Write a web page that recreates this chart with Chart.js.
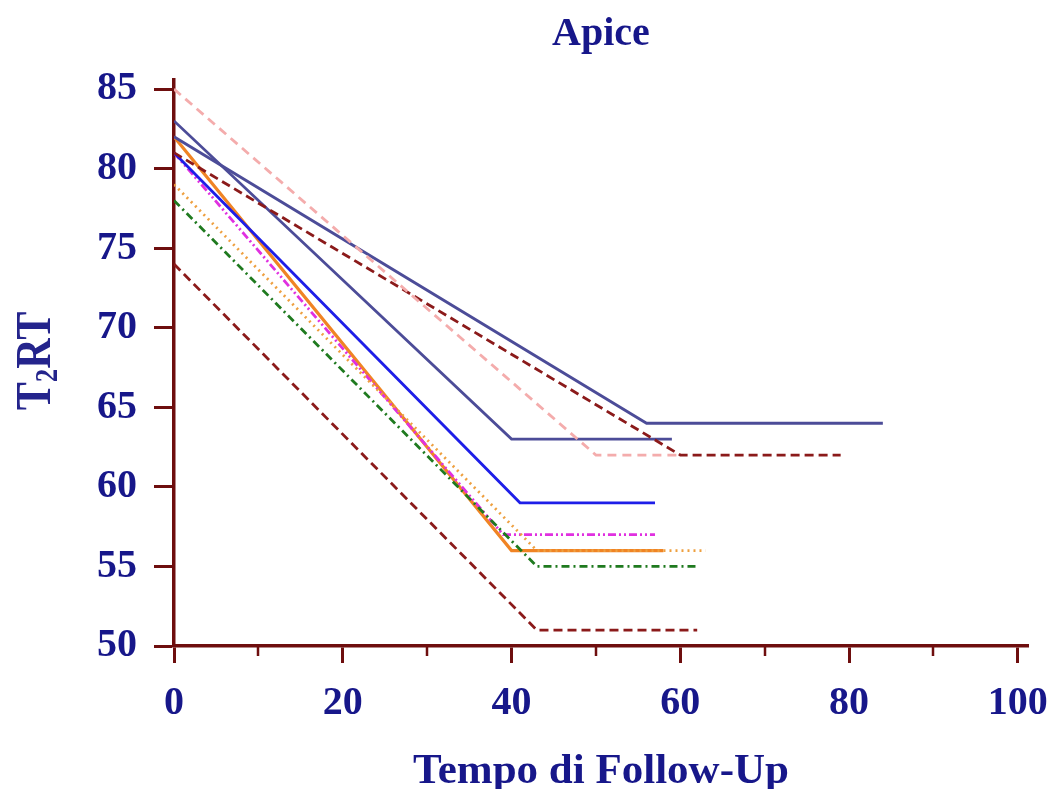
<!DOCTYPE html>
<html>
<head>
<meta charset="utf-8">
<script src="https://cdn.jsdelivr.net/npm/chart.js@4/dist/chart.umd.min.js"></script>
<style>
    html, body { margin: 0; background: #fff; }
</style>
</head>
<body>
<canvas id="chart" width="1053" height="789"></canvas>
<script>
// values: [x, ...] and [y, ...] for each curve
const xSlateA = [0, 56, 84];     const ySlateA = [82, 64, 64];
const xSlateB = [0, 40, 59];     const ySlateB = [83, 63, 63];
const xPink = [0, 50, 60];       const yPink = [85, 62, 62];
const xRedHigh = [0, 60, 79];    const yRedHigh = [81, 62, 62];
const xBlue = [0, 41, 57];       const yBlue = [81, 59, 59];
const xMagenta = [0, 39, 57];    const yMagenta = [81, 57, 57];
const xOrange = [0, 40, 58];     const yOrange = [82, 56, 56];
const xOrangeDot = [0, 43, 63];  const yOrangeDot = [79, 56, 56];
const xGreen = [0, 43, 62];      const yGreen = [78, 55, 55];
const xRedLow = [0, 43, 62];     const yRedLow = [74, 51, 51];

const xTicks = [0, 10, 20, 30, 40, 50, 60, 70, 80, 90, 100];
const yTicks = [50, 55, 60, 65, 70, 75, 80, 85];

const chartTitle = "Apice";
const xTitle = "Tempo di Follow-Up";

const AXIS = "#6e0e0e";
const NAVY = "#17178a";
const SERIF = "'Liberation Serif', 'Times New Roman', serif";

function pts(xs, ys) {
    return xs.map((x, i) => ({ x: x, y: ys[i] }));
}

function line(xs, ys, color, dash, width) {
    return {
        data: pts(xs, ys),
        borderColor: color,
        borderDash: dash,
        borderWidth: width || 2.8,
        pointRadius: 0,
        tension: 0,
        fill: false
    };
}

// title, rotated y title with subscript, short minor ticks on x
const decor = {
    id: 'decor',
    afterDraw(chart) {
        const ctx = chart.ctx;
        const xs = chart.scales.x;
        const area = chart.chartArea;
        ctx.save();

        ctx.strokeStyle = AXIS;
        ctx.lineWidth = 2.5;
        xTicks.forEach(v => {
            if (v % 20 !== 0) {
                const px = Math.round(xs.getPixelForValue(v));
                ctx.beginPath();
                ctx.moveTo(px, area.bottom);
                ctx.lineTo(px, area.bottom + 10);
                ctx.stroke();
            }
        });

        ctx.fillStyle = NAVY;
        ctx.font = "bold 40px " + SERIF;
        ctx.textAlign = "center";
        ctx.textBaseline = "alphabetic";
        ctx.fillText(chartTitle, (area.left + area.right) / 2, 45);

        // T2RT, rotated, a bit wider across like the rest of the picture
        ctx.translate(0, 361);
        ctx.rotate(-Math.PI / 2);
        ctx.scale(1, 1.2);
        ctx.textAlign = "left";
        ctx.fillStyle = "#24248c";
        const big = "bold 42px " + SERIF;
        const small = "bold 27px " + SERIF;
        ctx.font = big;
        const wT = ctx.measureText("T").width;
        const wRT = ctx.measureText("RT").width;
        ctx.font = small;
        const w2 = ctx.measureText("2").width;
        let x0 = -(wT + w2 + wRT) / 2;
        const base = 41.5;
        ctx.font = big;
        ctx.fillText("T", x0, base);
        ctx.font = small;
        ctx.fillText("2", x0 + wT, base + 6);
        ctx.font = big;
        ctx.fillText("RT", x0 + wT + w2, base);

        ctx.restore();
    }
};

new Chart(document.getElementById("chart"), {
    type: 'line',
    data: {
        datasets: [
            line(xPink, yPink, "#f4acac", [9, 6]),
            line(xRedHigh, yRedHigh, "#8b1a1a", [9, 5]),
            line(xSlateA, ySlateA, "#4c4c98", []),
            line(xSlateB, ySlateB, "#4c4c98", []),
            line(xBlue, yBlue, "#1e1ee8", []),
            line(xGreen, yGreen, "#1f7a1f", [8, 4, 2, 4]),
            line(xOrangeDot, yOrangeDot, "#eea040", [2, 4]),
            line(xMagenta, yMagenta, "#e030e0", [8, 3, 2, 3, 2, 3]),
            line(xOrange, yOrange, "#f08424", [], 3.2),
            line(xRedLow, yRedLow, "#8b1a1a", [9, 5])
        ]
    },
    options: {
        responsive: false,
        animation: false,
        layout: {
            padding: { left: 0, right: 25, top: 80, bottom: 0 }
        },
        scales: {
            x: {
                type: 'linear',
                min: 0,
                max: 101.2,
                afterBuildTicks: s => { s.ticks = xTicks.map(v => ({ value: v })); },
                afterFit: s => { s.height = 143; s.paddingRight = 0; s.paddingLeft = 0; },
                border: { display: true, color: AXIS, width: 3.5 },
                grid: {
                    drawOnChartArea: false,
                    tickLength: 17,
                    tickWidth: 3,
                    tickColor: c => (c.tick && c.tick.value % 20 === 0) ? AXIS : 'rgba(0,0,0,0)'
                },
                ticks: {
                    autoSkip: false,
                    maxRotation: 0,
                    padding: 17,
                    color: NAVY,
                    font: { family: SERIF, size: 40, weight: 'bold' },
                    callback: v => (v % 20 === 0 ? String(v) : '')
                },
                title: {
                    display: true,
                    text: xTitle,
                    color: NAVY,
                    padding: { top: 0, bottom: 0 },
                    font: { family: SERIF, size: 43, weight: 'bold', lineHeight: 0.8 }
                }
            },
            y: {
                min: 50,
                max: 85.57,
                afterBuildTicks: s => { s.ticks = yTicks.map(v => ({ value: v })); },
                afterFit: s => { s.width = 174; },
                border: { display: true, color: AXIS, width: 3.5 },
                grid: {
                    drawOnChartArea: false,
                    tickLength: 20,
                    tickWidth: 3,
                    tickColor: AXIS
                },
                ticks: {
                    padding: 17,
                    color: NAVY,
                    font: { family: SERIF, size: 40, weight: 'bold' }
                }
            }
        },
        plugins: {
            legend: { display: false },
            title: { display: false },
            tooltip: { enabled: false }
        }
    },
    plugins: [decor]
});
</script>
</body>
</html>
